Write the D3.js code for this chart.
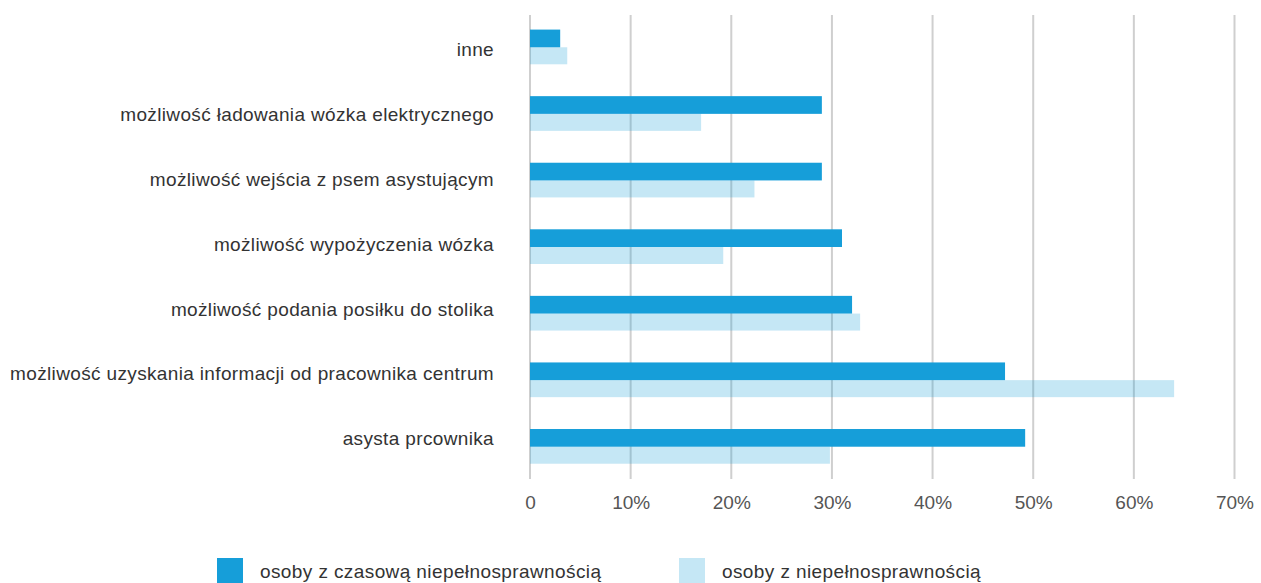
<!DOCTYPE html>
<html>
<head>
<meta charset="utf-8">
<script src="https://cdn.jsdelivr.net/npm/d3@7"></script>
<style>
    body { margin: 0; background: #fff; }
    svg { display: block; font-family: "Liberation Sans", Arial, sans-serif; }
</style>
</head>
<body>
<svg id="drawing_region"></svg>
<script>
const categories = [
    'inne',
    'możliwość ładowania wózka elektrycznego',
    'możliwość wejścia z psem asystującym',
    'możliwość wypożyczenia wózka',
    'możliwość podania posiłku do stolika',
    'możliwość uzyskania informacji od pracownika centrum',
    'asysta prcownika'
];
const temporary = [3, 29, 29, 31, 32, 47.2, 49.2];
const permanent = [3.7, 17, 22.3, 19.2, 32.8, 64, 29.8];
const series_names = ['osoby z czasową niepełnosprawnością', 'osoby z niepełnosprawnością'];
const x_ticks = [0, 10, 20, 30, 40, 50, 60, 70];

const config = {
    width: 1261,
    height: 583,
    margin: {top: 14, right: 27, bottom: 103, left: 530}
};

const svg = d3.select('#drawing_region')
    .attr('width', config.width)
    .attr('height', config.height);

const inner_h = config.height - config.margin.top - config.margin.bottom;

const chart = svg.append('g')
    .attr('transform', `translate(${config.margin.left}, ${config.margin.top})`);

const xscale = d3.scaleLinear()
    .domain([0, 70])
    .range([0, 704.5]);

const yscale = d3.scaleBand()
    .domain(categories)
    .range([0, inner_h]);

// labels sit on a slightly tighter band than the bars
const label_scale = d3.scaleBand()
    .domain(categories)
    .range([4.6, 457.9]);

const bar_h = 17.7;

// grid lines
chart.selectAll('.grid')
    .data(x_ticks)
    .enter()
    .append('line')
    .attr('x1', d => xscale(d))
    .attr('x2', d => xscale(d))
    .attr('y1', 1)
    .attr('y2', inner_h - 1)
    .attr('stroke', '#cfcfcf')
    .attr('stroke-width', 2);

// tick labels
const xaxis = d3.axisBottom(xscale)
    .tickValues(x_ticks)
    .tickSize(0)
    .tickPadding(0)
    .tickFormat(d => d === 0 ? '0' : d + '%');

const xg = chart.append('g')
    .attr('transform', `translate(0, ${inner_h + 15})`)
    .call(xaxis);
xg.select('.domain').remove();
xg.selectAll('text')
    .attr('font-family', '"Liberation Sans", Arial, sans-serif')
    .attr('font-size', '19px')
    .attr('fill', '#555')
    .attr('dy', '0.71em');

// bars
chart.selectAll('.bar_t')
    .data(categories)
    .enter()
    .append('rect')
    .attr('x', 0)
    .attr('y', d => yscale(d) + yscale.bandwidth() / 2 - bar_h)
    .attr('width', (d, i) => xscale(temporary[i]))
    .attr('height', bar_h)
    .attr('fill', '#169ed9');

chart.selectAll('.bar_p')
    .data(categories)
    .enter()
    .append('rect')
    .attr('x', 0)
    .attr('y', d => yscale(d) + yscale.bandwidth() / 2)
    .attr('width', (d, i) => xscale(permanent[i]))
    .attr('height', bar_h - 0.7)
    .attr('fill', '#169ed9')
    .attr('fill-opacity', 0.25);

// category labels
chart.selectAll('.label')
    .data(categories)
    .enter()
    .append('text')
    .attr('x', -36)
    .attr('y', d => label_scale(d) + label_scale.bandwidth() / 2 + 5.5)
    .attr('text-anchor', 'end')
    .attr('font-size', '19px')
    .attr('fill', '#333')
    .attr('letter-spacing', '0.35px')
    .text(d => d);

// legend
const legend = svg.append('g')
    .attr('transform', 'translate(217, 558)');

const legend_items = legend.selectAll('g')
    .data(series_names)
    .enter()
    .append('g')
    .attr('transform', (d, i) => `translate(${i * 462}, 0)`);

legend_items.append('rect')
    .attr('width', 26)
    .attr('height', 25)
    .attr('fill', '#169ed9')
    .attr('fill-opacity', (d, i) => i === 0 ? 1 : 0.25);

legend_items.append('text')
    .attr('x', 43)
    .attr('y', 20)
    .attr('font-size', '19px')
    .attr('fill', '#333')
    .attr('letter-spacing', '0.4px')
    .text(d => d);
</script>
</body>
</html>
